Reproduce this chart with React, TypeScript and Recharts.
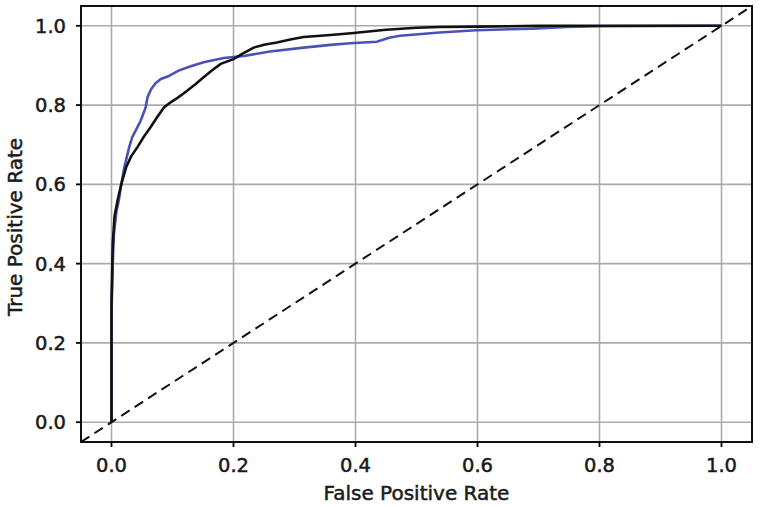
import { LineChart, Line, XAxis, YAxis, CartesianGrid, ReferenceArea } from 'recharts';

// ROC curve readings (false positive rate, true positive rate)
const blueFpr = [0, 0, 0.002, 0.004, 0.008, 0.012, 0.016, 0.021, 0.029, 0.034, 0.041, 0.048, 0.056, 0.059, 0.065, 0.072, 0.081, 0.092, 0.11, 0.13, 0.151, 0.184, 0.217, 0.26, 0.315, 0.359, 0.391, 0.435, 0.455, 0.473, 0.538, 0.598, 0.691, 0.746, 0.8, 1.0];
const blueTpr = [0, 0.27, 0.4, 0.476, 0.53, 0.56, 0.6, 0.643, 0.694, 0.719, 0.74, 0.761, 0.794, 0.82, 0.84, 0.855, 0.866, 0.872, 0.887, 0.898, 0.908, 0.919, 0.924, 0.935, 0.945, 0.952, 0.956, 0.96, 0.97, 0.975, 0.983, 0.989, 0.993, 0.997, 0.999, 1.0];

const blackFpr = [0, 0, 0.002, 0.005, 0.01, 0.016, 0.024, 0.032, 0.0425, 0.053, 0.064, 0.075, 0.086, 0.097, 0.11, 0.124, 0.138, 0.151, 0.165, 0.179, 0.2, 0.215, 0.233, 0.25, 0.271, 0.295, 0.315, 0.359, 0.397, 0.45, 0.5, 0.538, 0.6, 0.7, 1.0];
const blackTpr = [0, 0.3, 0.45, 0.52, 0.56, 0.6, 0.643, 0.67, 0.694, 0.72, 0.744, 0.77, 0.794, 0.807, 0.82, 0.836, 0.853, 0.87, 0.888, 0.904, 0.916, 0.93, 0.945, 0.952, 0.958, 0.966, 0.972, 0.977, 0.982, 0.99, 0.995, 0.997, 0.998, 1.0, 1.0];

const chanceLine = [-0.05, 1.05];
const ticks = [0, 0.2, 0.4, 0.6, 0.8, 1.0];

const blueData = blueFpr.map((x, i) => ({ x, y: blueTpr[i] }));
const blackData = blackFpr.map((x, i) => ({ x, y: blackTpr[i] }));
const chanceData = chanceLine.map((v) => ({ x: v, y: v }));

const FONT = '"DejaVu Sans", sans-serif';
const tickStyle = { fontSize: 19.5, fill: '#1a1a1a', fontFamily: FONT, stroke: '#1a1a1a', strokeWidth: 0.5 };

function XLabel({ viewBox }: any) {
  const { x, y, width } = viewBox;
  return (
    <text x={x + width / 2} y={y + 58} textAnchor="middle" fontSize={20} fontFamily={FONT} fill="#1a1a1a" stroke="#1a1a1a" strokeWidth={0.5}>
      False Positive Rate
    </text>
  );
}

function YLabel({ viewBox }: any) {
  const { y, height } = viewBox;
  const cx = 22;
  const cy = y + height / 2 + 3;
  return (
    <text x={cx} y={cy} transform={`rotate(-90, ${cx}, ${cy})`} textAnchor="middle" fontSize={20} fontFamily={FONT} fill="#1a1a1a" stroke="#1a1a1a" strokeWidth={0.5}>
      True Positive Rate
    </text>
  );
}

export default function App() {
  return (
    <div style={{ position: 'absolute', left: 0, top: 0, width: 760, height: 507, background: '#fff' }}>
      <LineChart width={760} height={507} margin={{ top: 6, right: 8, bottom: 0, left: 0 }}>
        <CartesianGrid stroke="#ababab" strokeWidth={1.6} />
        <XAxis
          type="number"
          dataKey="x"
          domain={[-0.05, 1.05]}
          ticks={ticks}
          allowDataOverflow
          height={65}
          tickSize={5}
          tickMargin={11}
          tickLine={{ stroke: '#000', strokeWidth: 1.8 }}
          axisLine={false}
          tick={tickStyle}
          tickFormatter={(v: number) => v.toFixed(1)}
          label={<XLabel />}
        />
        <YAxis
          type="number"
          dataKey="y"
          domain={[-0.05, 1.05]}
          ticks={ticks}
          allowDataOverflow
          width={81}
          tickSize={5}
          tickMargin={10}
          tickLine={{ stroke: '#000', strokeWidth: 1.8 }}
          axisLine={false}
          tick={tickStyle}
          tickFormatter={(v: number) => v.toFixed(1)}
          label={<YLabel />}
        />
        <Line data={blueData} dataKey="y" type="linear" stroke="#4a52b5" strokeWidth={2.6} dot={false} isAnimationActive={false} />
        <Line data={blackData} dataKey="y" type="linear" stroke="#111" strokeWidth={2.6} dot={false} isAnimationActive={false} />
        <Line data={chanceData} dataKey="y" type="linear" stroke="#111" strokeWidth={2} strokeDasharray="10 6" dot={false} isAnimationActive={false} />
        <ReferenceArea x1={-0.05} x2={1.05} y1={-0.05} y2={1.05} fill="none" stroke="#111" strokeWidth={2} ifOverflow="visible" />
      </LineChart>
    </div>
  );
}
